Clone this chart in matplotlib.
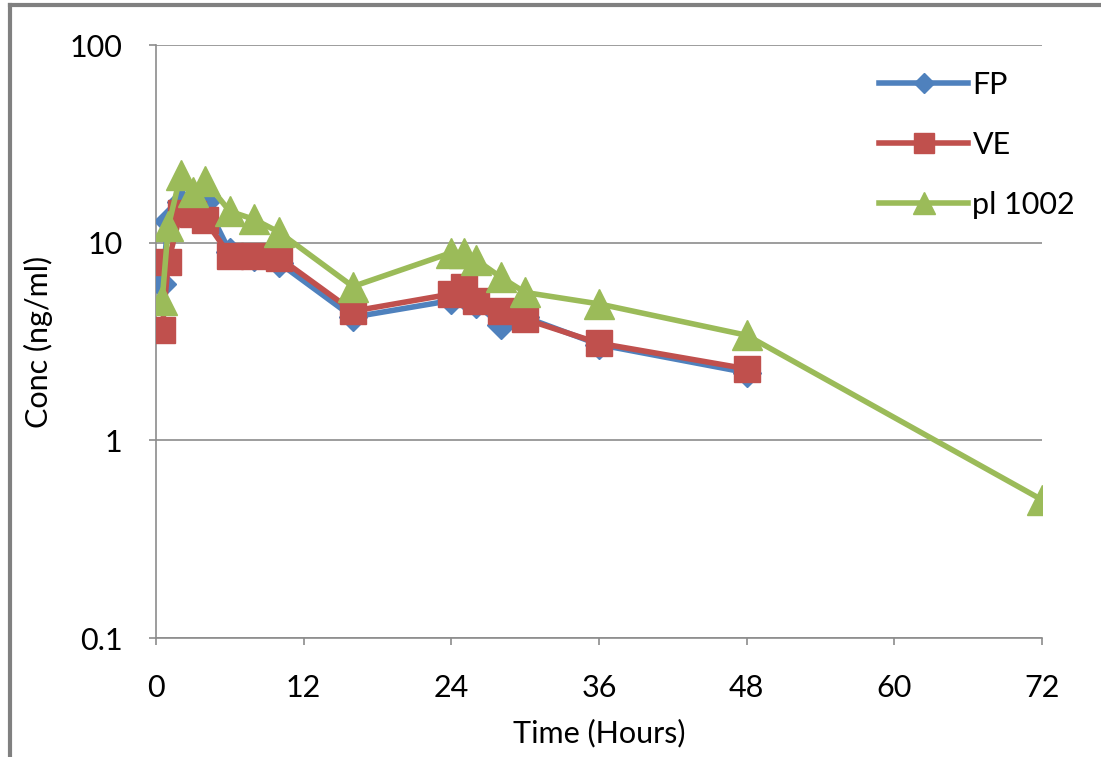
import matplotlib
matplotlib.use("Agg")
import matplotlib.pyplot as plt
from matplotlib.lines import Line2D

plt.rcParams['font.family'] = ['Lato', 'DejaVu Sans']

time_fp = [0.5, 1, 2, 3, 4, 6, 8, 10, 16, 24, 25, 26, 28, 30, 36, 48]
fp = [6.2, 12.8, 16.0, 16.5, 16.0, 9.0, 8.5, 7.9, 4.2, 5.1, 5.4, 4.9, 3.85, 4.2, 3.05, 2.2]

time_ve = [0.5, 1, 2, 3, 4, 6, 8, 10, 16, 24, 25, 26, 28, 30, 36, 48]
ve = [3.6, 8.0, 14.2, 14.0, 13.0, 8.6, 8.6, 8.4, 4.5, 5.5, 6.0, 5.05, 4.5, 4.1, 3.1, 2.3]

time_pl = [0.5, 1, 2, 3, 4, 6, 8, 10, 16, 24, 25, 26, 28, 30, 36, 48, 72]
pl = [5.1, 12.1, 22.0, 18.0, 20.5, 14.4, 13.1, 11.3, 6.0, 8.9, 8.9, 8.2, 6.7, 5.6, 4.9, 3.4, 0.5]

x_ticks = [0, 12, 24, 36, 48, 60, 72]
y_ticks = [0.1, 1, 10, 100]
y_ticklabels = ["0.1", "1", "10", "100"]

fig = plt.figure(figsize=(11.01, 7.57), dpi=100)
ax = fig.add_axes([156/1101, 1-638/757, (1042-156)/1101, (638-45)/757])

ax.plot(time_fp, fp, color='#4F81BD', lw=4, marker='D', ms=14, label='FP', zorder=3)
ax.plot(time_ve, ve, color='#C0504D', lw=4, marker='s', ms=19, label='VE', zorder=4)
ax.plot(time_pl, pl, color='#9BBB59', lw=4, marker='^', ms=21, label='pl 1002', zorder=5)

ax.set_yscale('log')
ax.set_ylim(0.1, 100)
ax.set_xlim(0, 72)
ax.set_xticks(x_ticks)
ax.set_yticks(y_ticks)
ax.set_yticklabels(y_ticklabels)
ax.yaxis.set_minor_locator(matplotlib.ticker.NullLocator())
ax.grid(axis='y', which='major', color='#8C8C8C', lw=1.2)
ax.set_axisbelow(True)

for s in ['top', 'right']:
    ax.spines[s].set_visible(False)
for s in ['left', 'bottom']:
    ax.spines[s].set_color('#8C8C8C')
    ax.spines[s].set_linewidth(1.2)
ax.tick_params(axis='both', colors='#8C8C8C', length=5, width=1.2, labelcolor='black', labelsize=22)
ax.tick_params(axis='x', pad=21)
ax.tick_params(axis='y', pad=19)

ax.set_xlabel('Time (Hours)', fontsize=22, labelpad=12)
ax.set_ylabel('Conc (ng/ml)', fontsize=22, labelpad=12)

leg = ax.legend(loc='upper left', bbox_to_anchor=(0.787, 1.0), frameon=False, fontsize=22,
                handlelength=2.9, labelspacing=1.05, handletextpad=0.15, markerscale=0.75,
                borderaxespad=0.45)

fig.add_artist(Line2D([10/1101, 10/1101], [0, 1-5/757], color='#808080', lw=3))
fig.add_artist(Line2D([10/1101, 1], [1-5/757, 1-5/757], color='#808080', lw=3))

fig.savefig('out.png', dpi=100)
